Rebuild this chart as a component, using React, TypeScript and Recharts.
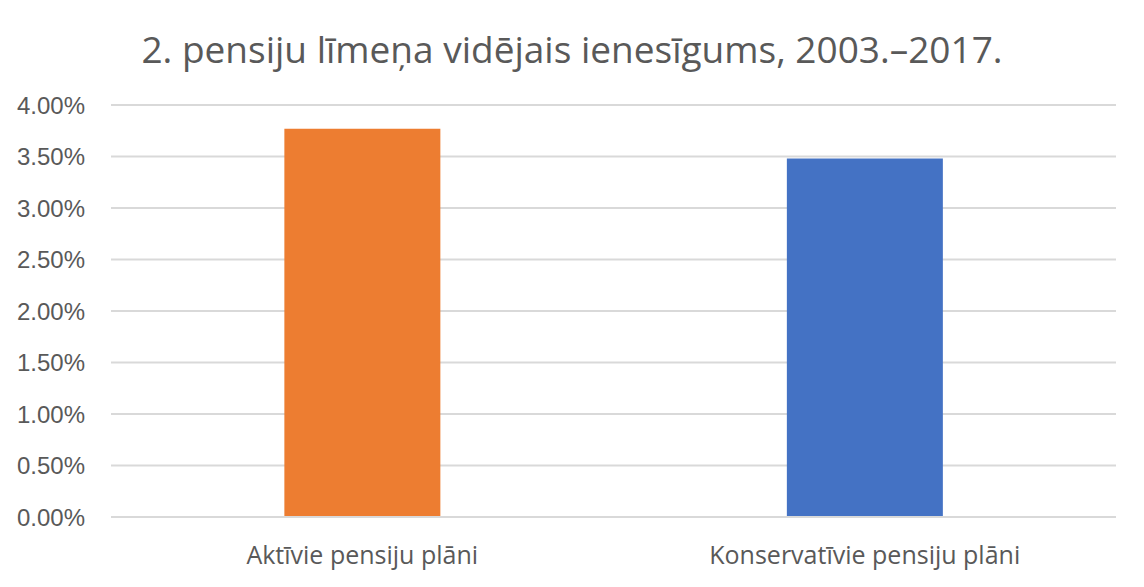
import { BarChart, Bar, XAxis, YAxis, CartesianGrid, Cell } from "recharts";

// values (as fractions)
const categories = ["Aktīvie pensiju plāni", "Konservatīvie pensiju plāni"];
const returns = [0.0377, 0.0348];
const barColors = ["#ED7D31", "#4472C4"];
const yTicks = [0, 0.005, 0.01, 0.015, 0.02, 0.025, 0.03, 0.035, 0.04];

const data = categories.map((name, i) => ({ name, value: returns[i] }));

const TITLE = "2. pensiju līmeņa vidējais ienesīgums, 2003.–2017.";

export default function App() {
  return (
    <div style={{ position: "relative", width: 1144, height: 587, margin: -8, background: "#fff" }}>
      <div
        style={{
          position: "absolute",
          top: 23,
          left: 0,
          width: 1144,
          textAlign: "center",
          fontFamily: "'Open Sans', sans-serif",
          fontSize: 37,
          color: "#595959",
        }}
      >
        {TITLE}
      </div>
      <BarChart width={1144} height={587} data={data} margin={{ top: 105, right: 28, bottom: 0, left: 0 }} barCategoryGap="34.5%">
        <CartesianGrid vertical={false} stroke="#D9D9D9" strokeWidth={2} />
        <XAxis
          dataKey="name"
          height={70}
          axisLine={{ stroke: "#D9D9D9", strokeWidth: 2 }}
          tickLine={false}
          tickSize={0}
          tickMargin={29}
          tick={{ fontSize: 25, fill: "#595959", fontFamily: "'Open Sans', sans-serif" }}
        />
        <YAxis
          width={111}
          domain={[0, 0.04]}
          ticks={yTicks}
          axisLine={false}
          tickLine={false}
          tickSize={0}
          tickMargin={26}
          tickFormatter={(v: number) => `${(v * 100).toFixed(2)}%`}
          tick={{ fontSize: 24, fill: "#595959", fontFamily: "'Liberation Sans', Arial, sans-serif" }}
        />
        <Bar dataKey="value" isAnimationActive={false}>
          {data.map((d, i) => (
            <Cell key={d.name} fill={barColors[i]} />
          ))}
        </Bar>
      </BarChart>
    </div>
  );
}
